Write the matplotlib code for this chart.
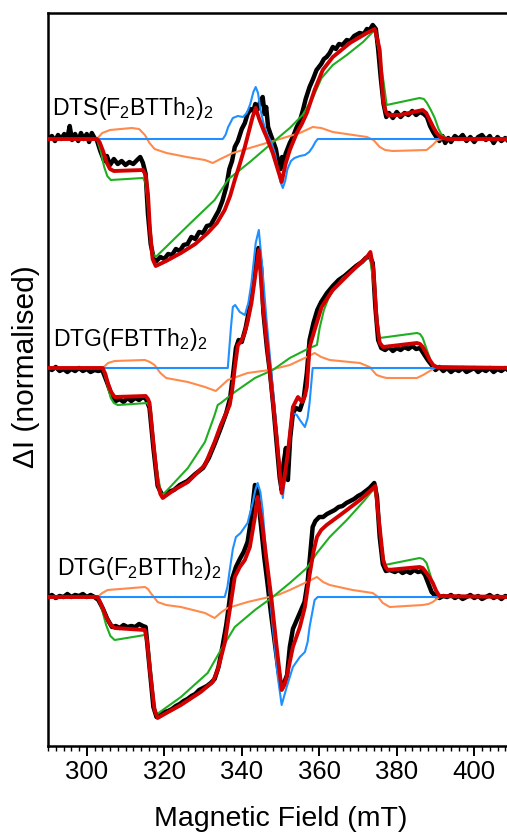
import matplotlib
matplotlib.use("Agg")
import matplotlib.pyplot as plt
from matplotlib.ticker import MultipleLocator

plt.rcParams['font.family'] = ['Liberation Sans', 'DejaVu Sans']
plt.rcParams['mathtext.fontset'] = 'custom'
plt.rcParams['mathtext.rm'] = 'Liberation Sans'
plt.rcParams['mathtext.it'] = 'Liberation Sans'

# ---------------- data (field in mT, signal in normalised units) ----------------
labels = [r'DTS(F$_2$BTTh$_2$)$_2$', r'DTG(FBTTh$_2$)$_2$', r'DTG(F$_2$BTTh$_2$)$_2$']

# Panel 1: DTS(F2BTTh2)2
p1_black_B = [290, 291, 291.8, 292.6, 293.4, 294.2, 295, 295.6, 296.2, 297, 297.8, 298.5, 299.2, 300, 300.6, 301.3, 302, 302.6,
              303.5, 304.5, 305.2, 306, 307, 308, 309, 310, 311, 312, 313, 313.8, 314.5, 315.2, 315.8, 316.5, 317.3, 318,
              319, 320, 321, 322, 323, 324, 325, 326, 327, 328, 329, 330, 331, 332, 333, 334, 335, 336, 336.8, 337.5,
              338.2, 339, 340, 340.8, 341.5, 342.3, 343, 343.5, 344.2, 344.8, 345.4, 345.9, 346.3, 346.8, 347.5, 348,
              348.8, 349.5, 350, 350.4, 350.8, 351.3, 352, 352.4, 353.2, 354.2, 355, 355.8, 356.5, 357.5, 358.4, 359.3,
              360.5, 361.2, 361.9, 362.7, 363.5, 364.3, 365.1, 366, 367.1, 368, 369, 370.4, 371.5, 372.3, 373, 373.8,
              374.6, 375.2, 375.9, 376.6, 377.3, 378, 379, 380, 381, 382, 383, 384, 385, 386, 387, 387.8, 388.6, 389.4,
              390.2, 391, 391.8, 392.5, 393.3, 394, 395, 396, 397, 398, 399, 400, 401, 402, 403, 404, 405, 406, 407,
              408, 409, 410]
p1_black_y = [0.0, 0.03, -0.02, 0.04, 0.0, 0.05, 0.01, 0.13, -0.01, 0.05, -0.02, 0.06, 0.0, 0.05, -0.03, 0.06, 0.01, -0.01,
              -0.12, -0.22, -0.17, -0.26, -0.20, -0.25, -0.22, -0.26, -0.23, -0.25, -0.21, -0.18, -0.24, -0.35, -0.75, -1.05, -1.20, -1.22,
              -1.18, -1.20, -1.15, -1.16, -1.10, -1.12, -1.06, -1.05, -0.98, -1.00, -0.93, -0.94, -0.87, -0.86, -0.79, -0.72, -0.62, -0.48, -0.30, -0.22,
              -0.08, -0.02, 0.10, 0.16, 0.25, 0.30, 0.28, 0.35, 0.30, 0.38, 0.42, 0.25, 0.32, 0.12, 0.04, -0.01,
              -0.10, -0.25, -0.30, -0.18, -0.28, -0.15, -0.08, -0.04, 0.02, 0.12, 0.18, 0.29, 0.40, 0.52, 0.60, 0.69,
              0.75, 0.80, 0.82, 0.86, 0.92, 0.90, 0.95, 0.94, 0.99, 0.98, 1.03, 1.06, 1.05, 1.10, 1.09, 1.14,
              1.10, 0.90, 0.60, 0.35, 0.22, 0.26, 0.21, 0.27, 0.22, 0.26, 0.24, 0.28, 0.24, 0.27, 0.25, 0.22, 0.13, 0.07,
              0.02, -0.02, 0.03, -0.04, 0.01, -0.03, 0.03, 0.0, 0.04, -0.02, 0.02, -0.03, 0.02, 0.04, -0.01, 0.03, -0.04, 0.02, -0.02,
              0.01, -0.03, 0.0]
p1_red_B = [290, 302.6, 303.3, 304.2, 305.2, 306, 307, 314.5, 315.2, 315.8, 316.3, 317, 317.8, 320.5, 324.3, 328, 331.2,
            333.6, 335.6, 337, 338.2, 339.5, 340.8, 342.0, 342.8, 343.6, 344.5, 345.5, 346.4, 348, 349.5, 350.3, 351.3,
            352.4, 354.2, 355.5, 356.8, 358.8, 360.9, 363.5, 367.9, 372.3, 374.3, 375.0, 375.6, 376.5, 377.1, 377.7,
            380.8, 386.7, 387.6, 388.5, 389.4, 390.3, 391.2, 391.9, 393, 410]
p1_red_y = [0, 0, -0.03, -0.12, -0.24, -0.30, -0.32, -0.31, -0.36, -0.55, -0.90, -1.20, -1.27, -1.22, -1.14, -1.05, -0.94,
            -0.84, -0.71, -0.57, -0.41, -0.25, -0.08, 0.10, 0.22, 0.31, 0.20, 0.10, 0.02, -0.14, -0.33, -0.43, -0.25,
            -0.11, 0.06, 0.15, 0.26, 0.49, 0.69, 0.82, 0.96, 1.06, 1.10, 1.00, 0.89, 0.39, 0.28, 0.24,
            0.24, 0.29, 0.26, 0.19, 0.12, 0.06, 0.02, 0.01, 0, 0]
p1_green_B = [290, 302.6, 303.6, 304.5, 305.3, 306.2, 314.5, 315.1, 315.6, 316.6, 317.2, 317.8, 326.8, 333.0, 336.6, 342.1,
              347.2, 352.4, 355.7, 358.3, 360.6, 363.5, 367.1, 371.3, 374.3, 375.3, 376.6, 377.4, 385.9, 387.0, 387.8,
              388.8, 389.8, 390.8, 391.6, 393, 410]
p1_green_y = [0, 0, -0.12, -0.28, -0.37, -0.41, -0.39, -0.43, -0.60, -1.05, -1.15, -1.18, -0.84, -0.61, -0.40, -0.23,
              -0.06, 0.11, 0.24, 0.41, 0.61, 0.74, 0.84, 0.97, 1.09, 0.90, 0.57, 0.34, 0.41, 0.40, 0.36,
              0.29, 0.21, 0.10, 0.04, 0, 0]
p1_blue_B = [290, 335.1, 335.8, 336.5, 337.7, 339.0, 340.3, 341.3, 342.2, 343.0, 343.6, 344.2, 344.8, 345.6, 346.4, 347.7,
             348.6, 349.3, 350.0, 350.6, 351.2, 351.8, 352.7, 353.6, 355.0, 356.3, 357.4, 358.3, 359.0, 359.6, 410]
p1_blue_y = [0, 0, 0.04, 0.12, 0.21, 0.23, 0.22, 0.26, 0.35, 0.47, 0.52, 0.46, 0.30, 0.16, 0.06, -0.04,
             -0.15, -0.30, -0.43, -0.49, -0.42, -0.30, -0.22, -0.19, -0.17, -0.16, -0.13, -0.08, -0.03, 0, 0]
p1_orange_B = [290, 302.6, 304.0, 306.0, 311.6, 313.5, 315.0, 316.2, 317.5, 320.6, 325.8, 330.5, 332.5, 334.5, 337.7,
               346.4, 355.0, 358.3, 360.5, 363.5, 372.3, 374.0, 375.6, 377.0, 378.9, 387.7, 389.3, 390.5, 391.9, 410]
p1_orange_y = [0, 0, 0.06, 0.09, 0.11, 0.10, 0.04, -0.04, -0.10, -0.14, -0.18, -0.21, -0.24, -0.20, -0.14,
               -0.04, 0.06, 0.12, 0.11, 0.07, 0.02, -0.01, -0.08, -0.11, -0.12, -0.11, -0.06, -0.01, 0, 0]

# Panel 2: DTG(FBTTh2)2
p2_black_B = [290, 291, 292, 293, 294, 295, 296, 297, 298, 299, 300, 301, 302, 303, 304, 305.3, 306.5, 307.5, 308.5, 309.5,
              310.5, 311.5, 312.5, 313.5, 314.5, 315.3, 316.2, 317.2, 318.3, 319.6, 321, 322.5, 324, 326, 328, 330, 331.5,
              333, 334.6, 336, 337, 337.8, 338.5, 339.2, 340, 341, 342, 343, 343.7, 344.3, 345, 345.6, 346.5, 347.3, 348.2,
              349, 349.8, 350.3, 350.8, 351.4, 351.9, 352.5, 353.2, 354, 355, 356, 356.8, 357.5, 358.5, 359.5, 360.5, 362,
              363.5, 365, 366.5, 368, 369.5, 371, 372, 373, 373.8, 374.5, 375.2, 376, 377, 378, 379, 380, 381, 382, 383,
              384, 385, 386, 387, 388, 389, 390, 391, 392, 393, 394, 395, 396, 397, 398, 399, 400, 401, 402, 403, 404,
              405, 406, 407, 408, 409, 410]
p2_black_y = [0.0, -0.02, 0.01, -0.03, -0.01, -0.04, -0.01, -0.03, 0.0, -0.03, -0.01, -0.04, -0.02, -0.03, -0.02, -0.15, -0.28, -0.33, -0.31, -0.34,
              -0.30, -0.33, -0.30, -0.32, -0.29, -0.31, -0.40, -0.80, -1.18, -1.28, -1.24, -1.22, -1.17, -1.13, -1.06, -1.00, -0.90,
              -0.76, -0.60, -0.45, -0.30, -0.05, 0.20, 0.28, 0.26, 0.40, 0.60, 0.85, 1.10, 1.20, 1.00, 0.55, 0.20, -0.05, -0.40,
              -0.75, -1.10, -1.22, -0.95, -0.80, -1.12, -0.70, -0.45, -0.40, -0.42, -0.30, -0.05, 0.28, 0.45, 0.58, 0.66, 0.75,
              0.82, 0.88, 0.92, 0.97, 1.02, 1.06, 1.10, 1.12, 1.05, 0.60, 0.28, 0.20, 0.18, 0.21, 0.17, 0.20, 0.18, 0.21, 0.19,
              0.22, 0.19, 0.20, 0.14, 0.08, 0.03, -0.02, 0.01, -0.03, 0.0, -0.04, -0.01, -0.03, 0.0, -0.04, -0.02, 0.0, -0.04, -0.01, -0.03, 0.0,
              -0.04, -0.01, -0.03, 0.0, -0.03, -0.01]
p2_red_B = [290, 304.1, 304.8, 305.5, 306.3, 307.2, 315.2, 315.8, 316.2, 317.2, 318.3, 319.0, 319.6, 322.5, 326.1, 330.5,
            333.0, 334.6, 336.0, 336.9, 337.6, 338.2, 339.0, 339.7, 340.6, 341.5, 342.5, 343.4, 344.4, 345.4, 347.2,
            349.0, 350.3, 351.0, 351.9, 353.2, 354.5, 355.6, 356.3, 356.8, 357.5, 358.8, 360.6, 363.5, 367.9, 372.3,
            373.2, 374.0, 374.8, 375.6, 376.5, 385.2, 386.0, 386.7, 387.6, 388.5, 389.4, 390.3, 410]
p2_red_y = [0, 0, -0.06, -0.16, -0.24, -0.29, -0.28, -0.31, -0.35, -0.75, -1.15, -1.26, -1.30, -1.22, -1.14, -0.97,
            -0.74, -0.57, -0.45, -0.37, -0.20, 0.0, 0.23, 0.26, 0.33, 0.46, 0.65, 0.90, 1.18, 0.65, -0.02,
            -0.69, -1.25, -1.10, -0.85, -0.39, -0.29, -0.34, -0.28, -0.19, 0.21, 0.38, 0.61, 0.78, 0.95, 1.11,
            1.16, 0.98, 0.48, 0.25, 0.21, 0.25, 0.24, 0.21, 0.15, 0.08, 0.03, 0.01, 0]
p2_green_B = [290, 304.1, 305.2, 306.2, 307.0, 308.0, 315.7, 316.2, 316.6, 317.8, 319.1, 319.6, 326.1, 330.5, 333.0, 333.8,
              334.6, 338.2, 343.4, 348.0, 352.4, 357.5, 359.4, 360.1, 361.2, 362.7, 366.1, 370.5, 373.0, 374.0, 375.0,
              375.6, 385.2, 386.0, 386.7, 387.6, 388.5, 389.2, 389.8, 410]
p2_green_y = [0, 0, -0.15, -0.30, -0.35, -0.37, -0.35, -0.40, -0.50, -0.95, -1.24, -1.27, -1.00, -0.74, -0.47, -0.37,
              -0.35, -0.24, -0.10, -0.02, 0.10, 0.20, 0.23, 0.40, 0.58, 0.73, 0.90, 1.03, 1.13, 0.85, 0.45,
              0.30, 0.35, 0.34, 0.30, 0.20, 0.10, 0.03, 0.0, 0]
p2_blue_B = [290, 336.4, 337.2, 337.7, 338.3, 339.5, 340.8, 341.7, 342.5, 343.6, 344.4, 345.2, 346.4, 348.0, 349.8, 350.6,
             351.5, 352.4, 353.2, 354.2, 355.0, 356.3, 357.0, 357.5, 358.3, 410]
p2_blue_y = [0, 0, 0.40, 0.61, 0.63, 0.56, 0.53, 0.65, 0.85, 1.25, 1.38, 1.05, 0.48, -0.19, -1.02, -1.30,
             -0.95, -0.65, -0.45, -0.47, -0.52, -0.59, -0.50, -0.35, 0, 0]
p2_orange_B = [290, 304.1, 305.5, 307.2, 315.0, 316.3, 317.5, 319.0, 320.5, 326.1, 330.5, 333.3, 335.0, 336.4, 341.5,
               347.2, 352.4, 356.8, 358.8, 360.5, 362.7, 370.5, 373.0, 374.8, 376.3, 377.4, 385.2, 386.8, 388.5, 389.8, 410]
p2_orange_y = [0, 0, 0.05, 0.07, 0.08, 0.06, 0.03, -0.05, -0.10, -0.14, -0.19, -0.23, -0.17, -0.12, -0.05,
               -0.02, 0.03, 0.11, 0.15, 0.11, 0.08, 0.05, 0.01, -0.07, -0.09, -0.10, -0.10, -0.07, -0.03, 0, 0]

# Panel 3: DTG(F2BTTh2)2
p3_black_B = [290, 291, 292, 293, 294, 295, 296, 297, 298, 299, 300, 301, 302, 303, 304.2, 305.3, 306.5, 307.5, 308.5, 309.5,
              310.5, 311.5, 312.5, 313.5, 314.5, 315.2, 316.2, 317.2, 318.0, 319, 320, 321, 322, 323, 324, 325, 326, 327,
              328, 329, 330, 331, 332, 333, 334, 335, 336, 336.8, 337.5, 338.5, 339.5, 340.5, 341.5, 342.5, 343.4, 344.1,
              345.0, 345.8, 346.6, 347.5, 348.5, 349.5, 350.3, 351, 351.7, 352.4, 353.2, 354.2, 355.2, 356.2, 357, 357.6,
              358.3, 359, 360, 361, 362, 363, 364, 365, 366, 367, 368, 369, 370, 371, 372, 373, 374.2, 374.9, 375.6,
              376.4, 377.2, 378.2, 379.5, 380.5, 381.5, 382.5, 383.5, 384.5, 385.5, 386.5, 387.3, 388, 389, 390, 391,
              392, 393, 394, 395, 396, 397, 398, 399, 400, 401, 402, 403, 404, 405, 406, 407, 408, 409, 410]
p3_black_y = [0.0, 0.02, -0.01, 0.01, 0.0, 0.03, 0.0, 0.02, 0.01, 0.03, 0.0, 0.02, 0.0, -0.03, -0.12, -0.22, -0.30, -0.29, -0.31, -0.28,
              -0.30, -0.29, -0.30, -0.27, -0.29, -0.30, -0.70, -1.10, -1.20, -1.18, -1.15, -1.14, -1.12, -1.09, -1.07, -1.04, -1.02, -0.99,
              -0.97, -0.93, -0.91, -0.89, -0.86, -0.82, -0.70, -0.50, -0.28, -0.05, 0.18, 0.30, 0.38, 0.45, 0.55, 0.80, 1.12, 1.05,
              0.70, 0.40, 0.15, -0.15, -0.45, -0.75, -0.92, -0.85, -0.78, -0.50, -0.32, -0.23, -0.14, -0.05, 0.15, 0.40,
              0.70, 0.76, 0.80, 0.80, 0.83, 0.85, 0.87, 0.90, 0.91, 0.94, 0.96, 0.98, 1.01, 1.03, 1.06, 1.09, 1.14, 1.00, 0.60,
              0.33, 0.26, 0.27, 0.25, 0.27, 0.24, 0.26, 0.24, 0.27, 0.25, 0.26, 0.22, 0.15, 0.05, 0.01, -0.01,
              0.01, 0.0, 0.02, -0.01, 0.01, -0.02, 0.0, 0.02, -0.01, 0.01, -0.02, 0.0, 0.02, -0.01, 0.01, -0.02, 0.01, 0.0, -0.02]
p3_red_B = [290, 302.8, 303.8, 305.0, 306.2, 307.2, 315.0, 315.6, 316.3, 317.5, 318.3, 321.0, 324.3, 329.4, 332.5, 333.8,
            335.6, 336.9, 338.2, 339.5, 340.8, 342.1, 343.4, 344.1, 345.2, 346.4, 347.7, 349.0, 350.3, 351.0, 351.6,
            353.2, 355.0, 356.3, 357.5, 358.5, 359.4, 360.5, 361.9, 366.1, 370.5, 374.5, 375.3, 376.5, 377.1, 377.7,
            385.9, 386.7, 387.5, 388.4, 389.3, 390.2, 391.0, 410]
p3_red_y = [0, 0, -0.08, -0.20, -0.28, -0.31, -0.33, -0.45, -0.73, -1.13, -1.21, -1.15, -1.08, -0.95, -0.85, -0.73,
            -0.46, -0.13, 0.20, 0.30, 0.37, 0.50, 0.80, 1.00, 0.75, 0.37, -0.03, -0.50, -0.93, -0.88, -0.80,
            -0.50, -0.30, -0.10, 0.22, 0.45, 0.60, 0.67, 0.72, 0.84, 0.97, 1.11, 0.80, 0.37, 0.30, 0.27,
            0.30, 0.29, 0.25, 0.20, 0.14, 0.06, 0.01, 0]
p3_green_B = [290, 302.8, 303.9, 305.0, 306.1, 307.2, 315.0, 315.6, 316.2, 317.2, 317.8, 324.3, 331.2, 334.6, 338.2,
              343.4, 348.0, 352.4, 356.8, 359.4, 362.7, 367.1, 371.3, 374.3, 375.2, 376.2, 376.9, 385.9, 386.8,
              387.7, 388.5, 389.3, 390.2, 391.0, 410]
p3_green_y = [0, 0, -0.12, -0.28, -0.39, -0.43, -0.38, -0.45, -0.60, -1.05, -1.18, -1.00, -0.76, -0.53, -0.30,
              -0.13, 0.0, 0.14, 0.29, 0.44, 0.60, 0.77, 0.95, 1.09, 0.85, 0.50, 0.32, 0.39, 0.38,
              0.34, 0.24, 0.14, 0.05, 0.0, 0]
p3_blue_B = [290, 335.6, 336.3, 336.9, 337.7, 338.5, 339.7, 341.5, 342.8, 343.5, 344.1, 344.8, 345.4, 346.4, 348.0,
             349.3, 350.3, 351.6, 353.2, 355.0, 356.3, 357.0, 357.5, 358.8, 359.6, 410]
p3_blue_y = [0, 0, 0.10, 0.27, 0.48, 0.60, 0.64, 0.74, 0.94, 1.07, 1.14, 1.05, 0.87, 0.37, -0.30,
             -0.80, -1.08, -0.90, -0.70, -0.60, -0.55, -0.45, -0.30, -0.03, 0, 0]
p3_orange_B = [290, 302.8, 304.0, 305.4, 315.0, 315.8, 316.5, 318.3, 320.5, 324.3, 330.5, 333.0, 334.8, 336.4, 341.5,
               349.3, 352.4, 356.8, 359.4, 361.0, 362.7, 368.6, 373.8, 375.2, 376.4, 378.2, 386.7, 388.2, 389.3, 391.0, 410]
p3_orange_y = [0, 0, 0.04, 0.07, 0.10, 0.08, 0.04, -0.05, -0.08, -0.10, -0.16, -0.21, -0.15, -0.11, -0.05,
               0.02, 0.07, 0.15, 0.20, 0.15, 0.12, 0.07, 0.04, 0.00, -0.06, -0.10, -0.08, -0.07, -0.05, 0, 0]

x_ticks = [300, 320, 340, 360, 380, 400]

# ---------------- layout / style ----------------
offsets = [6.07, 3.78, 1.49]
label_pos = [(291.0, 6.31), (291.3, 4.00), (292.3, 1.71)]
C_BLACK, C_RED, C_GREEN, C_BLUE, C_ORANGE = '#000000', '#d20000', '#1fae1f', '#1e90ff', '#ff8a4c'

panels = [
    (p1_black_B, p1_black_y, p1_red_B, p1_red_y, p1_green_B, p1_green_y, p1_blue_B, p1_blue_y, p1_orange_B, p1_orange_y),
    (p2_black_B, p2_black_y, p2_red_B, p2_red_y, p2_green_B, p2_green_y, p2_blue_B, p2_blue_y, p2_orange_B, p2_orange_y),
    (p3_black_B, p3_black_y, p3_red_B, p3_red_y, p3_green_B, p3_green_y, p3_blue_B, p3_blue_y, p3_orange_B, p3_orange_y),
]

W, H = 507, 836
fig = plt.figure(figsize=(W / 100, H / 100), dpi=100)
ax = fig.add_axes([48 / W, (836 - 746) / H, 465 / W, (746 - 13) / H])

for i, (bB, by, rB, ry, gB, gy, uB, uy, oB, oy) in enumerate(panels):
    off = offsets[i]
    ax.plot(bB, [v + off for v in by], color=C_BLACK, lw=3.2, zorder=1, solid_joinstyle='round')
    ax.plot(oB, [v + off for v in oy], color=C_ORANGE, lw=1.5, zorder=2, solid_joinstyle='round')
    ax.plot(gB, [v + off for v in gy], color=C_GREEN, lw=1.5, zorder=2, solid_joinstyle='round')
    ax.plot(uB, [v + off for v in uy], color=C_BLUE, lw=1.5, zorder=2, solid_joinstyle='round')
    ax.plot(rB, [v + off for v in ry], color=C_RED, lw=2.8, zorder=3, solid_joinstyle='round')
    ax.text(label_pos[i][0], label_pos[i][1], labels[i], fontsize=16.6, ha='left', va='baseline', zorder=5)

ax.set_xlim(290, 410)
ax.set_ylim(0, 7.33)
ax.set_xticks(x_ticks)
ax.xaxis.set_minor_locator(MultipleLocator(2))
ax.set_yticks([])
ax.tick_params(axis='x', which='major', direction='out', length=7, width=1.4, labelsize=18.5, pad=3)
ax.tick_params(axis='x', which='minor', direction='out', length=3.5, width=1.0)
for s in ax.spines.values():
    s.set_linewidth(1.8)

fig.text(281 / W, 1 - 819 / H, 'Magnetic Field (mT)', fontsize=20.5, ha='center', va='center')
fig.text(26 / W, 1 - 367 / H, 'ΔI (normalised)', fontsize=21.5, ha='center', va='center', rotation=90)

fig.savefig('out.png', dpi=100)
